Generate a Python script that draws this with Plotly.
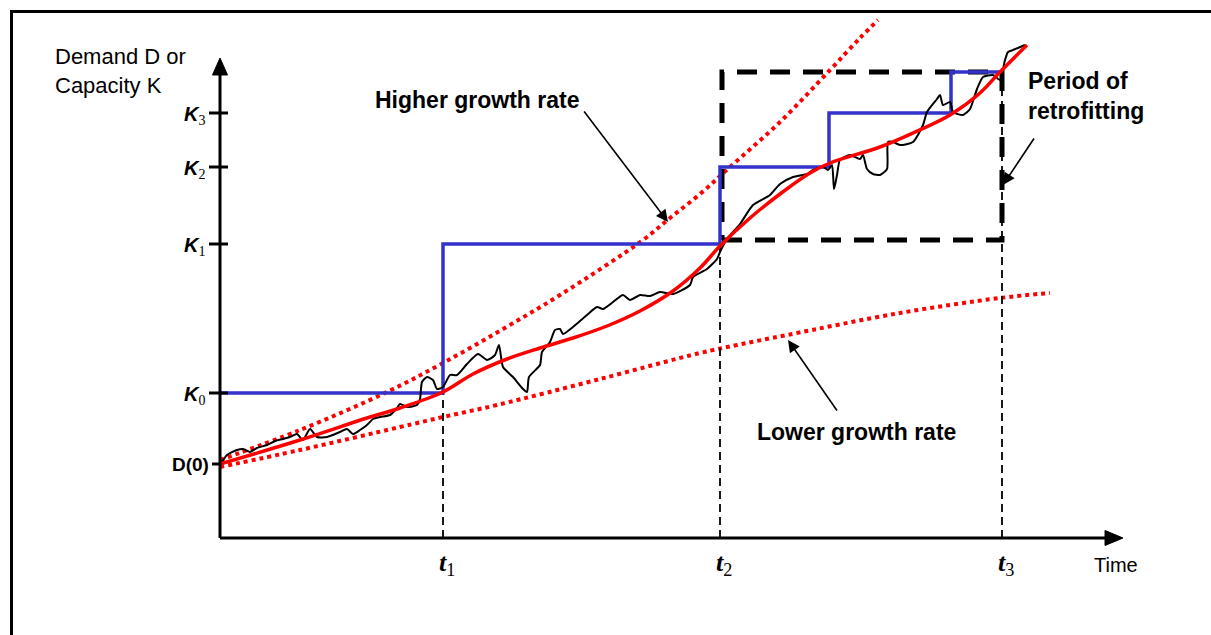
import plotly.graph_objects as go

# ---- data (arbitrary units: time, demand/capacity) ----
t_marks = [223, 500, 782]                 # t1, t2, t3
t_labels = ["1", "2", "3"]
K_levels = [145, 294, 371, 425]           # K0..K3
K_labels = ["0", "1", "2", "3"]
D0 = 74

step_t = [0, 223, 500, 609, 731, 783]
step_k = [145, 294, 371, 425, 466, 466]

smooth_t = [0, 80, 147, 180, 223, 253, 287, 320, 353, 387, 420, 453, 480, 500,
            530, 560, 590, 610, 660, 693, 730, 760, 780, 807]
smooth_d = [74, 98, 120, 130, 146, 164, 179, 190, 200, 212, 227, 247, 270, 292,
            320, 344, 365, 375, 391, 405, 423, 445, 466, 493]

actual_t = [2, 7, 17, 23, 30, 37, 47, 55, 63, 70, 77, 83, 90, 97, 107, 120, 127, 133,
            140, 147, 153, 160, 170, 177, 180, 187, 197, 200, 202, 207, 213, 217, 223,
            230, 237, 247, 258, 267, 275, 279, 283, 293, 303, 307, 309, 320, 322, 330,
            335, 340, 343, 353, 367, 377, 383, 393, 403, 410, 420, 430, 440, 453, 470,
            473, 487, 497, 500, 507, 520, 533, 550, 560, 573, 587, 593, 603, 608, 612,
            614, 617, 620, 630, 640, 643, 647, 653, 660, 667, 668, 673, 680, 693, 703,
            707, 717, 720, 723, 730, 733, 743, 750, 757, 763, 773, 780, 785, 788, 793,
            798, 805]
actual_d = [76, 83, 88, 89, 86, 90, 93, 97, 99, 101, 104, 98, 109, 101, 101, 106, 109, 104,
            108, 113, 119, 121, 123, 130, 134, 131, 133, 139, 156, 161, 158, 149, 151,
            163, 163, 174, 184, 178, 183, 193, 171, 161, 149, 146, 161, 173, 186, 196,
            208, 209, 204, 211, 223, 231, 229, 236, 243, 238, 243, 242, 246, 244, 253,
            261, 269, 279, 286, 299, 314, 333, 343, 354, 361, 364, 368, 371, 368, 373,
            349, 363, 378, 383, 379, 383, 369, 364, 363, 369, 396, 396, 393, 396, 413,
            426, 439, 443, 433, 436, 426, 423, 429, 449, 461, 463, 458, 478, 486, 488,
            490, 493]

high_t = [0, 80, 167, 223, 283, 340, 423, 450, 480, 510, 560, 610, 640, 658]
high_d = [78, 108, 146, 175, 209, 243, 298, 320, 344, 371, 416, 468, 500, 518]

low_t = [0, 80, 180, 223, 277, 380, 480, 517, 567, 680, 780, 830]
low_d = [71, 88, 111, 121, 133, 159, 185, 193, 203, 225, 240, 245]

box_t = [502, 782]
box_d = [298, 466]

RED = "#FF0000"
BLUE = "#3333CC"
SANS = "Liberation Sans, Arial, sans-serif"
SERIF = "Liberation Serif, Times New Roman, serif"

fig = go.Figure()

# dotted growth curves
fig.add_trace(go.Scatter(x=low_t, y=low_d, mode="lines", line_shape="spline",
                         line=dict(color=RED, width=4, dash="4px,4px"), hoverinfo="skip"))
fig.add_trace(go.Scatter(x=high_t, y=high_d, mode="lines", line_shape="spline",
                         line=dict(color=RED, width=4, dash="4px,4px"), hoverinfo="skip"))

# thin dashed verticals at t1, t2, t3
v_tops = [K_levels[0], K_levels[1], step_k[-1]]
for t, top in zip(t_marks, v_tops):
    fig.add_trace(go.Scatter(x=[t, t], y=[0, top], mode="lines",
                             line=dict(color="black", width=1.8, dash="8px,5px"), hoverinfo="skip"))

# thick dashed retrofitting box
fig.add_trace(go.Scatter(x=[box_t[0], box_t[1], box_t[1], box_t[0], box_t[0]],
                         y=[box_d[0], box_d[0], box_d[1], box_d[1], box_d[0]], mode="lines",
                         line=dict(color="black", width=5, dash="20px,13px"), hoverinfo="skip"))

# capacity step
fig.add_trace(go.Scatter(x=step_t, y=step_k, mode="lines", line_shape="hv",
                         line=dict(color=BLUE, width=3.5), hoverinfo="skip"))
# actual demand
fig.add_trace(go.Scatter(x=actual_t, y=actual_d, mode="lines", line_shape="spline",
                         line=dict(color="black", width=2, smoothing=0.6), hoverinfo="skip"))
# smooth demand
fig.add_trace(go.Scatter(x=smooth_t, y=smooth_d, mode="lines", line_shape="spline",
                         line=dict(color=RED, width=3.5), hoverinfo="skip"))

shapes = []
# outer frame (top + left visible)
shapes.append(dict(type="path", path="M -208.5,-120 L -208.5,526.5 L 1020,526.5",
                   line=dict(color="black", width=3)))
# axes
shapes.append(dict(type="line", x0=0, y0=0, x1=0, y1=465, line=dict(color="black", width=3)))
shapes.append(dict(type="line", x0=0, y0=0, x1=890, y1=0, line=dict(color="black", width=3)))
shapes.append(dict(type="path", path="M -7.5,463 L 7.5,463 L 0,480 Z",
                   fillcolor="black", line=dict(color="black", width=1)))
shapes.append(dict(type="path", path="M 885,-7.5 L 885,7.5 L 903,0 Z",
                   fillcolor="black", line=dict(color="black", width=1)))
# ticks
for k in K_levels:
    shapes.append(dict(type="line", x0=-11, y0=k, x1=8, y1=k, line=dict(color="black", width=3)))
shapes.append(dict(type="line", x0=-8, y0=D0, x1=0, y1=D0, line=dict(color="black", width=3)))

annotations = []
annotations.append(dict(x=-167, y=467, xref="x", yref="y", xanchor="left", yanchor="middle",
                        text="Demand D or<br>Capacity K", showarrow=False, align="left",
                        font=dict(family=SANS, size=22, color="black")))
for k, lab in zip(K_levels, K_labels):
    annotations.append(dict(x=-13, y=k - 2, xref="x", yref="y", xanchor="right", yanchor="middle",
                            text="<b><i>K</i></b><sub><span style='font-family:Liberation Serif;color:black'>%s</span></sub>" % lab,
                            showarrow=False, font=dict(family=SANS, size=20, color="black")))
annotations.append(dict(x=-9, y=D0, xref="x", yref="y", xanchor="right", yanchor="middle",
                        text="<b>D(0)</b>", showarrow=False,
                        font=dict(family=SANS, size=19, color="black")))
for t, lab in zip(t_marks, t_labels):
    annotations.append(dict(x=t + 4, y=-26, xref="x", yref="y", xanchor="center", yanchor="middle",
                            text="<b><i>t</i></b><sub>%s</sub>" % lab, showarrow=False,
                            font=dict(family=SERIF, size=26, color="black")))
annotations.append(dict(x=896, y=-27, xref="x", yref="y", xanchor="center", yanchor="middle",
                        text="Time", showarrow=False, font=dict(family=SANS, size=20, color="black")))

annotations.append(dict(x=257, y=438, xref="x", yref="y", xanchor="center", yanchor="middle",
                        text="<b>Higher growth rate</b>", showarrow=False,
                        font=dict(family=SANS, size=23, color="black")))
annotations.append(dict(x=636, y=106, xref="x", yref="y", xanchor="center", yanchor="middle",
                        text="<b>Lower growth rate</b>", showarrow=False,
                        font=dict(family=SANS, size=23, color="black")))
annotations.append(dict(x=806, y=442, xref="x", yref="y", xanchor="left", yanchor="middle",
                        text="<b>Period of<br>retrofitting</b>", showarrow=False, align="left",
                        font=dict(family=SANS, size=23, color="black")))

arrows = [((363, 428), (448, 316)), ((618, 126), (568, 198)), ((815, 401), (783, 353))]
for (ax, ay), (hx, hy) in arrows:
    annotations.append(dict(x=hx, y=hy, ax=ax, ay=ay, xref="x", yref="y", axref="x", ayref="y",
                            text="", showarrow=True, arrowhead=2, arrowsize=1.5, arrowwidth=1.6,
                            arrowcolor="black", standoff=0, startstandoff=0))

fig.update_layout(
    width=1211, height=635,
    margin=dict(l=0, r=0, t=0, b=0),
    paper_bgcolor="white", plot_bgcolor="white",
    showlegend=False,
    xaxis=dict(range=[-220, 991], visible=False, fixedrange=True),
    yaxis=dict(range=[-97, 538], visible=False, fixedrange=True),
    shapes=shapes, annotations=annotations,
)

fig.write_html("out.html", config={"displayModeBar": False},
               post_script="document.body.style.margin='0';document.body.style.overflow='hidden';")
